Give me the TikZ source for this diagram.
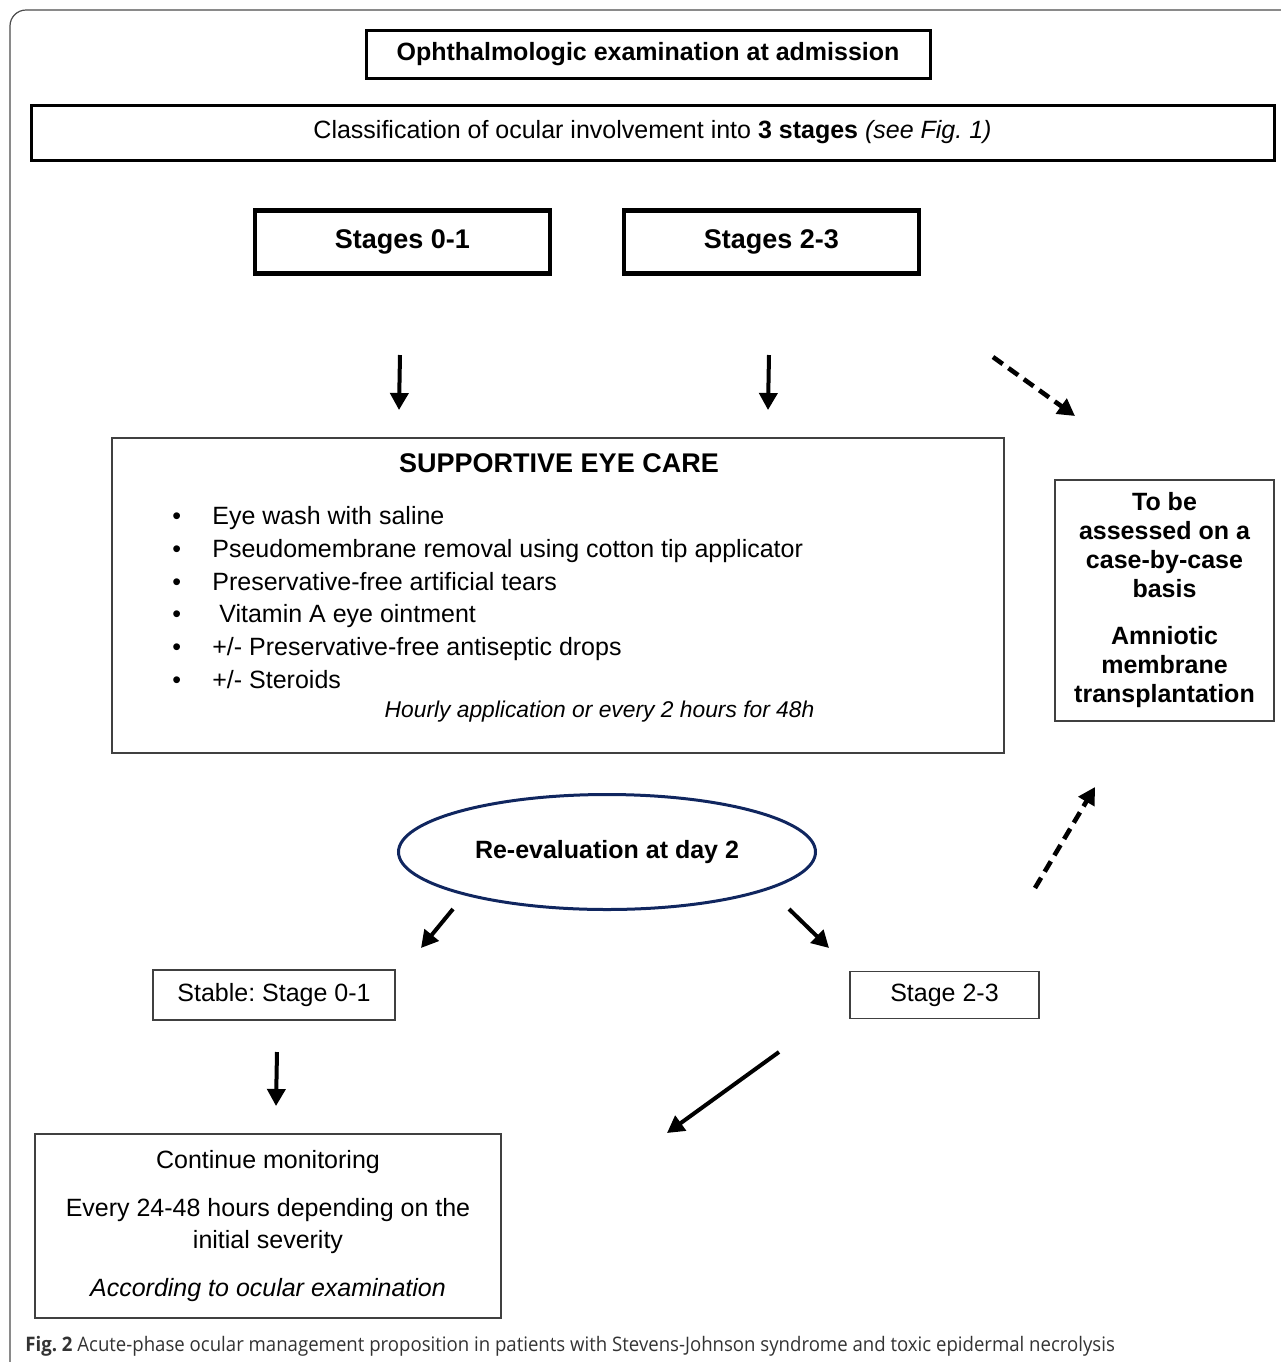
\documentclass[tikz,border=0pt]{standalone}
\usepackage{fontspec}
\setmainfont{Liberation Sans}
\newfontfamily\capfont[FakeStretch=0.93]{Open Sans}
\usepackage{tikz}
\usetikzlibrary{shapes.geometric,arrows.meta}
\frenchspacing

\definecolor{navyline}{RGB}{16,38,95}
\tikzset{
	every node/.style={font=\fontsize{12.5}{15}\selectfont},
	bfnode/.style={font=\fontsize{12.5}{15}\selectfont\bfseries},
	thickbox/.style={draw, line width=1.5pt},
	stagebox/.style={draw, line width=2.25pt, minimum width=147.5pt, minimum height=31.5pt, font=\fontsize{13.5}{16}\selectfont\bfseries},
	thinbox/.style={draw=black!75, line width=0.75pt},
	careitem/.style={anchor=base west, inner sep=0pt},
	arr/.style={line width=2pt, -{Triangle[length=8.5pt,width=9pt]}},
	darr/.style={arr, line width=2.3pt, dash pattern=on 6pt off 3.5pt}
}

\begin{document}
\begin{tikzpicture}[x=0.5pt,y=-0.5pt]
\useasboundingbox (0,0) rectangle (1281,1362);
\draw[black!70, line width=0.6pt, rounded corners=8pt] (10,1362) -- (10,10) -- (1281,10);

\node[thickbox, bfnode, minimum width=282pt, minimum height=24pt] (exam) at (648,54) {Ophthalmologic examination at admission};
\node[thickbox, minimum width=621.5pt, minimum height=27.5pt] (classif) at (652.5,132.5) {Classification of ocular involvement into \textbf{3 stages} \textit{(see Fig. 1)}};

\node[stagebox] (st01) at (402.5,242) {Stages 0-1};
\node[stagebox] (st23) at (771.5,242) {Stages 2-3};

% supportive care
\node[thinbox, minimum width=446pt, minimum height=157.5pt] (care) at (558,595.5) {};
\node[font=\fontsize{13.5}{16}\selectfont\bfseries] (caretitle) at (559,463) {SUPPORTIVE EYE CARE};
	\node[careitem] (c1) at (172,524) {\makebox[20pt][l]{\textbullet}Eye wash with saline};
	\node[careitem] (c2) at (172,557) {\makebox[20pt][l]{\textbullet}Pseudomembrane removal using cotton tip applicator};
	\node[careitem] (c3) at (172,590) {\makebox[20pt][l]{\textbullet}Preservative-free artificial tears};
	\node[careitem] (c4) at (172,622) {\makebox[20pt][l]{\textbullet}\ Vitamin A eye ointment};
	\node[careitem] (c5) at (172,655) {\makebox[20pt][l]{\textbullet}+/- Preservative-free antiseptic drops};
	\node[careitem] (c6) at (172,688) {\makebox[20pt][l]{\textbullet}+/- Steroids};
\node[anchor=base, inner sep=0pt, font=\fontsize{11.4}{14}\selectfont\itshape] (hourly) at (599.5,717) {Hourly application or every 2 hours for 48h};

\node[thinbox, align=center, font=\fontsize{12.5}{14.5}\selectfont\bfseries, minimum width=109.5pt, minimum height=120.5pt] (amt) at (1164.5,600.5) {To be\\assessed on a\\case-by-case\\basis\\[9pt]Amniotic\\membrane\\transplantation};

\node[ellipse, draw=navyline, line width=1.5pt, bfnode, minimum width=208.5pt, minimum height=57.5pt] (reeval) at (607,852) {Re-evaluation at day 2};

\node[thinbox, minimum width=121pt, minimum height=25pt] (stable) at (274,995) {Stable: Stage 0-1};
\node[thinbox, minimum width=94.5pt, minimum height=23.5pt] (stage23) at (944.5,995) {Stage 2-3};

\node[thinbox, align=center, font=\fontsize{12.5}{16}\selectfont, minimum width=233pt, minimum height=92pt] (monitor) at (268,1226) {Continue monitoring\\[8pt]Every 24-48 hours depending on the\\initial severity\\[8pt]\textit{According to ocular examination}};

% arrow ends
\coordinate (fromst01) at (400,355);
\coordinate (tocare01) at (399,410);
\coordinate (fromst23) at (769,355);
\coordinate (tocare23) at (768,410);
\coordinate (fromst23b) at (993,357);
\coordinate (toamt) at (1075,416);
\coordinate (reevl) at (453,909);
\coordinate (tostable) at (421,948);
\coordinate (reevr) at (789,909);
\coordinate (tostage23) at (829,948);
\coordinate (fromstage23) at (1035,888);
\coordinate (upamt) at (1095,787);
\coordinate (fromstable) at (277,1052);
\coordinate (tomonitor) at (276,1106);
\coordinate (fromstage23b) at (779,1052);
\coordinate (tomonitorb) at (667,1133);

\draw[arr] (fromst01) -- (tocare01);
\draw[arr] (fromst23) -- (tocare23);
\draw[darr] (fromst23b) -- (toamt);
\draw[arr] (reevl) -- (tostable);
\draw[arr] (reevr) -- (tostage23);
\draw[darr] (fromstage23) -- (upamt);
\draw[arr] (fromstable) -- (tomonitor);
\draw[arr] (fromstage23b) -- (tomonitorb);

\node[anchor=base west, inner sep=0pt, text=black!80, font=\capfont\fontsize{10}{12}\selectfont] (caption) at (25,1351) {\textbf{Fig. 2} Acute-phase ocular management proposition in patients with Stevens-Johnson syndrome and toxic epidermal necrolysis};
\end{tikzpicture}
\end{document}
